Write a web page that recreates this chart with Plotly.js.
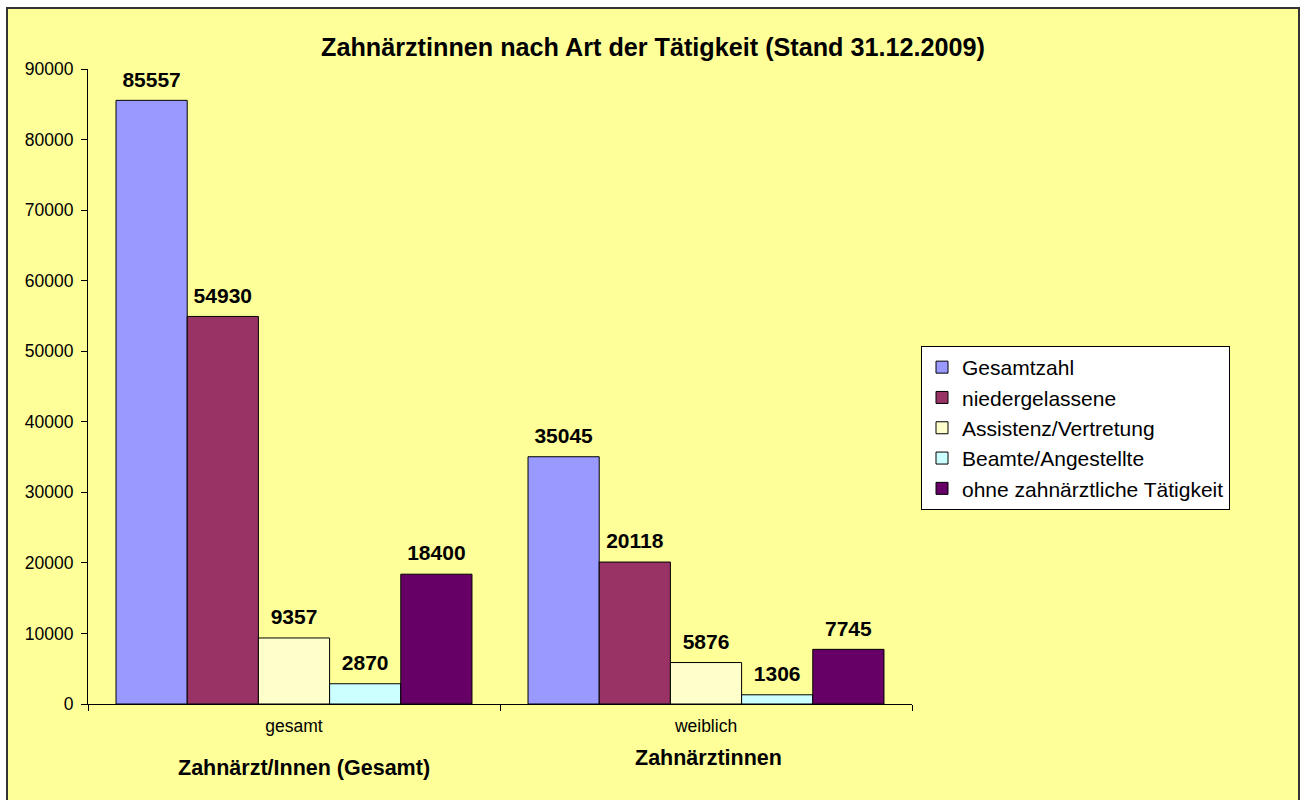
<!DOCTYPE html>
<html>
<head>
<meta charset="utf-8">
<script src="https://cdn.plot.ly/plotly-3.0.1.min.js"></script>
<style>
  html, body { margin: 0; padding: 0; background: #ffffff; overflow: hidden; }
  #frame { position: absolute; left: 6px; top: 7px; width: 1290px; height: 800px; border: 2px solid #333333; background: #FFFF99; }
  #chart { width: 1290px; height: 800px; }
</style>
</head>
<body>
<div id="frame"><div id="chart"></div></div>
<script>
// ---- data ----
const categories = ["gesamt", "weiblich"];
const seriesNames = ["Gesamtzahl", "niedergelassene", "Assistenz/Vertretung", "Beamte/Angestellte", "ohne zahnärztliche Tätigkeit"];
const gesamtzahl = [85557, 35045];
const niedergelassene = [54930, 20118];
const assistenz = [9357, 5876];
const beamte = [2870, 1306];
const ohneTaetigkeit = [18400, 7745];
const seriesValues = [gesamtzahl, niedergelassene, assistenz, beamte, ohneTaetigkeit];
const seriesColors = ["#9999FF", "#993366", "#FFFFCC", "#CCFFFF", "#660066"];
const titleText = "Zahnärztinnen nach Art der Tätigkeit (Stand 31.12.2009)";
const groupTitles = ["Zahnärzt/Innen (Gesamt)", "Zahnärztinnen"];

const FONT = "Liberation Sans, Arial, Helvetica, sans-serif";
const GAP = 0.136;

const traces = [];
seriesNames.forEach((name, i) => {
  traces.push({
    type: "bar",
    name: name,
    x: categories,
    y: seriesValues[i],
    marker: { color: seriesColors[i], line: { color: "#000000", width: 1 } },
    legendgroup: "g" + i,
    hoverinfo: "x+y+name"
  });
});
seriesNames.forEach((name, i) => {
  traces.push({
    type: "scatter",
    mode: "markers+text",
    orientation: "v",
    x: categories,
    y: seriesValues[i],
    marker: { size: 12, opacity: 0, color: "#000000" },
    text: seriesValues[i].map(v => String(v)),
    textposition: "top center",
    textfont: { family: FONT, size: 21, color: "#000000", weight: "bold" },
    showlegend: false,
    hoverinfo: "skip",
    cliponaxis: false
  });
});

const layout = {
  width: 1290,
  height: 800,
  paper_bgcolor: "#FFFF99",
  plot_bgcolor: "#FFFF99",
  margin: { l: 80, r: 386, t: 60, b: 105 },
  barmode: "group",
  bargap: GAP,
  bargroupgap: 0,
  scattermode: "group",
  scattergap: GAP,
  font: { family: FONT, color: "#000000" },
  title: {
    text: titleText,
    font: { family: FONT, size: 25.2, weight: "bold", color: "#000000" },
    x: 0.5, xref: "container", xanchor: "center",
    y: 1 - 38 / 800, yref: "container", yanchor: "middle"
  },
  xaxis: {
    type: "category",
    range: [-0.5, 1.5],
    showline: true, linecolor: "#000000", linewidth: 1,
    ticks: "outside", tickson: "boundaries", ticklen: 6, tickcolor: "#000000",
    tickfont: { family: FONT, size: 17.5, color: "#000000" },
    ticklabelstandoff: 6,
    showgrid: false, zeroline: false,
    fixedrange: true
  },
  yaxis: {
    range: [0, 90000],
    dtick: 10000,
    tickformat: "d",
    showline: true, linecolor: "#000000", linewidth: 1,
    ticks: "outside", ticklen: 6, tickcolor: "#000000",
    tickfont: { family: FONT, size: 17.5, color: "#000000" },
    ticklabelstandoff: 4,
    showgrid: false, zeroline: false,
    fixedrange: true
  },
  legend: {
    x: (913 - 80) / 824, xanchor: "left",
    y: (695 - 337) / 635, yanchor: "top",
    bgcolor: "#FFFFFF", bordercolor: "#000000", borderwidth: 1,
    font: { family: FONT, size: 21, color: "#000000" },
    tracegroupgap: 0,
    traceorder: "normal"
  },
  annotations: [
    { text: groupTitles[0], xref: "paper", yref: "paper", x: 0.262, y: -0.1008, xanchor: "center", yanchor: "middle", showarrow: false,
      font: { family: FONT, size: 21.5, weight: "bold", color: "#000000" } },
    { text: groupTitles[1], xref: "paper", yref: "paper", x: 0.753, y: -0.085, xanchor: "center", yanchor: "middle", showarrow: false,
      font: { family: FONT, size: 21.5, weight: "bold", color: "#000000" } }
  ],
  showlegend: true
};

Plotly.newPlot("chart", traces, layout, { displayModeBar: false, staticPlot: true });
</script>
</body>
</html>
